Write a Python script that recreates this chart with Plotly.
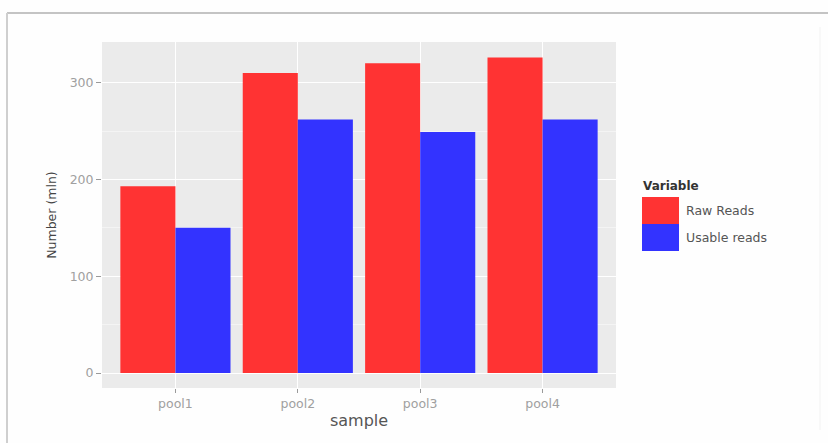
import plotly.graph_objects as go

samples = ["pool1", "pool2", "pool3", "pool4"]
raw_reads = [193, 310, 320, 326]
usable_reads = [150, 262, 249, 262]
series_names = ["Raw Reads", "Usable reads"]
series_colors = ["#FF3333", "#3333FF"]
y_ticks = [0, 100, 200, 300]

W, H = 828, 443
L, R, T, B = 102, 212, 42, 55
pw, ph = W - L - R, H - T - B

def px(x):
    return (x - L) / pw

def py(y):
    return (H - B - y) / ph

fig = go.Figure()
for name, vals, col in zip(series_names, [raw_reads, usable_reads], series_colors):
    fig.add_trace(go.Bar(x=samples, y=vals, name=name, marker=dict(color=col, line=dict(width=0)),
                         showlegend=False))

font_main = "DejaVu Sans, Verdana, sans-serif"

fig.update_layout(
    width=W, height=H,
    margin=dict(l=L, r=R, t=T, b=B),
    paper_bgcolor="#FEFEFE",
    plot_bgcolor="#EBEBEB",
    barmode="group",
    bargap=0.1,
    bargroupgap=0,
    font=dict(family=font_main),
    xaxis=dict(
        range=[-0.6, 3.6],
        showgrid=True, gridcolor="#FFFFFF", gridwidth=1,
        ticks="outside", ticklen=4, tickcolor="#9A9A9A",
        tickfont=dict(size=12.5, color="#A0A0A0"),
        title=dict(text="sample", font=dict(size=16, color="#555555"), standoff=4),
        zeroline=False, showline=False,
    ),
    yaxis=dict(
        range=[-15.5, 342],
        tickvals=y_ticks,
        showgrid=True, gridcolor="#FFFFFF", gridwidth=1,
        minor=dict(dtick=50, showgrid=True, gridcolor="#F4F4F4", gridwidth=0.6, tick0=50),
        ticks="outside", ticklen=5, tickcolor="#9A9A9A",
        tickfont=dict(size=12.5, color="#A0A0A0"),
        title=dict(text="Number (mln)", font=dict(size=12.5, color="#444444"), standoff=10),
        zeroline=False, showline=False,
    ),
)

# manual ggplot-style legend
shapes = []
annots = []
key_x0, key_x1 = 642, 679
key_tops = [197, 224]
for i, (name, col) in enumerate(zip(series_names, series_colors)):
    y0 = key_tops[i]
    y1 = y0 + 27
    shapes.append(dict(type="rect", xref="paper", yref="paper",
                       x0=px(key_x0), x1=px(key_x1), y0=py(y1), y1=py(y0),
                       fillcolor=col, line=dict(width=0)))
    annots.append(dict(text=name, xref="paper", yref="paper", x=px(684), y=py((y0 + y1) / 2),
                       xanchor="left", yanchor="middle", showarrow=False,
                       font=dict(size=12.5, color="#555555")))
annots.append(dict(text="<b>Variable</b>", xref="paper", yref="paper", x=px(641), y=py(186),
                   xanchor="left", yanchor="middle", showarrow=False,
                   font=dict(size=12, color="#333333")))

# screenshot frame
shapes.append(dict(type="line", xref="paper", yref="paper", x0=px(7), x1=px(828), y0=py(13), y1=py(13),
                   line=dict(color="#C4C4C4", width=2)))
shapes.append(dict(type="line", xref="paper", yref="paper", x0=px(7), x1=px(7), y0=py(13), y1=py(443),
                   line=dict(color="#CFCFCF", width=2)))
shapes.append(dict(type="line", xref="paper", yref="paper", x0=px(820), x1=px(820), y0=py(27), y1=py(430),
                   line=dict(color="#F2F2F2", width=1)))

fig.update_layout(shapes=shapes, annotations=annots)
fig.write_html("out.html", config={"displayModeBar": False},
               post_script="document.body.style.margin='0';document.body.style.overflow='hidden';")
